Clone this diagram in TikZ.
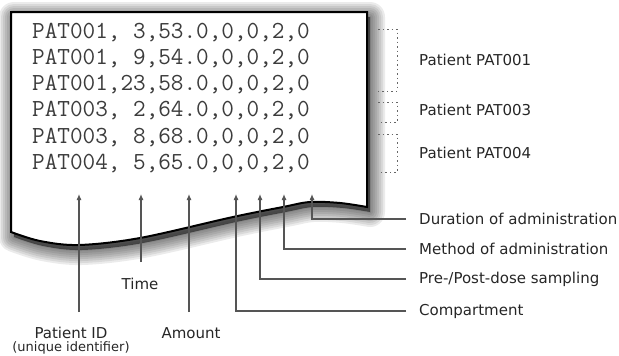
\documentclass[tikz,border=0pt]{standalone}
\usepackage{fontspec}
\setmainfont{DejaVu Sans}
\usetikzlibrary{arrows.meta,positioning}
\definecolor{inkgray}{HTML}{3C3C3C}
\definecolor{leadgray}{HTML}{555555}
\definecolor{bracketgray}{HTML}{666666}

\newcommand{\sheetpath}{(11,12) -- (367,12) -- (367,207)
  -- plot[smooth, tension=0.55] coordinates {(367,207) (340,203) (310,202) (283,207)
     (233,217) (140,238) (79,245) (40,241) (11,232)} -- cycle}

\begin{document}
\begin{tikzpicture}[x=1pt, y=-1pt,
    datarow/.style={anchor=base west, inner sep=0pt, text=inkgray,
      font=\ttfamily\fontsize{24.5}{26}\selectfont},
    fieldlbl/.style={anchor=west, inner sep=3pt, text=black!85,
      font=\fontsize{15}{17}\selectfont},
    underlbl/.style={inner sep=0pt, text=black!85, font=\fontsize{15}{17}\selectfont},
    lead/.style={leadgray, line width=1.1pt, -{Latex[length=6pt, width=5pt]}},
    grp/.style={bracketgray, line width=0.9pt, dash pattern=on 1.5pt off 3pt}]
  \useasboundingbox (0,0) rectangle (619,356);

  % Shadow of the sheet
  \begin{scope}[shift={(3,5)}]
    \foreach \w in {30,26,...,2} {
      \draw[line width=\w pt, black, opacity=0.08, line join=round] \sheetpath;
    }
    \fill[black, opacity=0.5] \sheetpath;
  \end{scope}

  % The sheet
  \filldraw[fill=white, draw=black, line width=2pt, line join=miter] \sheetpath;

  % Data rows
  \node[datarow] (row1) at (32,38.0)  {PAT001, 3,53.0,0,0,2,0};
  \node[datarow] (row2) at (32,64.3)  {PAT001, 9,54.0,0,0,2,0};
  \node[datarow] (row3) at (32,90.6)  {PAT001,23,58.0,0,0,2,0};
  \node[datarow] (row4) at (32,116.9) {PAT003, 2,64.0,0,0,2,0};
  \node[datarow] (row5) at (32,143.2) {PAT003, 8,68.0,0,0,2,0};
  \node[datarow] (row6) at (32,169.5) {PAT004, 5,65.0,0,0,2,0};

  % Patient groups
  \draw[grp] (378,29) -- (397,29) -- (397,91) -- (378,91);
  \draw[grp] (378,102) -- (397,102) -- (397,122) -- (378,122);
  \draw[grp] (378,134) -- (397,134) -- (397,172) -- (378,172);
  \node[fieldlbl] (pat1) at (416,60)  {Patient PAT001};
  \node[fieldlbl] (pat3) at (416,110) {Patient PAT003};
  \node[fieldlbl] (pat4) at (416,153) {Patient PAT004};

  % Arrow tips under the columns
  \coordinate (idtip)   at (79,194);
  \coordinate (timetip) at (141,194);
  \coordinate (amttip)  at (189,194);
  \coordinate (cmttip)  at (236,194);
  \coordinate (evidtip) at (260,194);
  \coordinate (mdvtip)  at (284,194);
  \coordinate (durtip)  at (312,194);

  % Labels below the sheet
  \node[underlbl] (idlbl)   at (71,333)  {Patient ID};
  \node[underlbl, font=\fontsize{13}{15}\selectfont] (idnote) at (71,348) {(unique identifier)};
  \node[underlbl] (timelbl) at (140,284) {Time};
  \node[underlbl] (amtlbl)  at (191,333) {Amount};
  \coordinate (idfoot)   at (79,312);
  \coordinate (timefoot) at (141,262);
  \coordinate (amtfoot)  at (189,312);

  \draw[lead] (idfoot) -- (idtip);
  \draw[lead] (timefoot) -- (timetip);
  \draw[lead] (amtfoot) -- (amttip);

  % Labels to the right
  \node[fieldlbl] (durlbl)  at (416,219) {Duration of administration};
  \node[fieldlbl] (mdvlbl)  at (416,249) {Method of administration};
  \node[fieldlbl] (evidlbl) at (416,279) {Pre-/Post-dose sampling};
  \node[fieldlbl] (cmtlbl)  at (416,311) {Compartment};

  \draw[lead, shorten <=10pt] (durlbl.west) -| (durtip);
  \draw[lead, shorten <=10pt] (mdvlbl.west) -| (mdvtip);
  \draw[lead, shorten <=10pt] (evidlbl.west) -| (evidtip);
  \draw[lead, shorten <=10pt] (cmtlbl.west) -| (cmttip);
\end{tikzpicture}
\end{document}
